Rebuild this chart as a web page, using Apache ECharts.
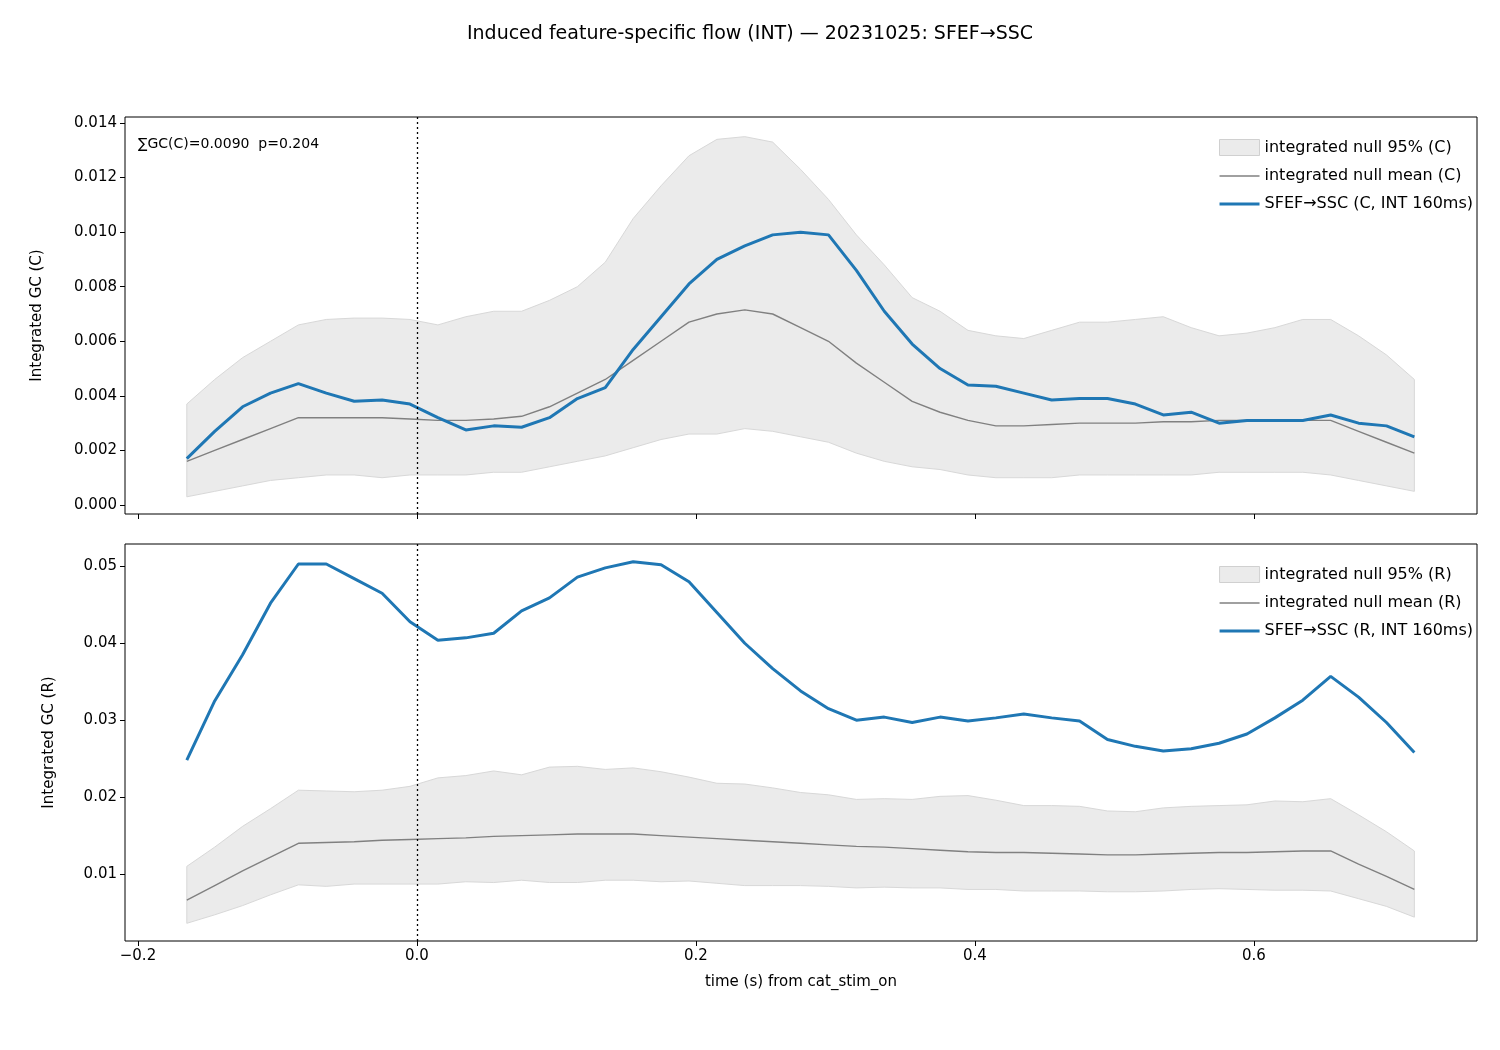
<!DOCTYPE html>
<html><head><meta charset="utf-8">
<script src="https://cdn.jsdelivr.net/npm/echarts@6/dist/echarts.min.js"></script>
<style>body{margin:0}#c{width:1500px;height:1050px}</style></head>
<body><div id="c"></div>
<script>
const times = Array.from({length:45},(_,i)=>+(-0.165+0.02*i).toFixed(3));
const cObs=[0.0017,0.0027,0.0036,0.0041,0.00445,0.0041,0.0038,0.00385,0.0037,0.0032,0.00275,0.0029,0.00285,0.0032,0.0039,0.0043,0.0057,0.0069,0.0081,0.0090,0.0095,0.0099,0.0100,0.0099,0.0086,0.0071,0.0059,0.0050,0.0044,0.00435,0.0041,0.00385,0.0039,0.0039,0.0037,0.0033,0.0034,0.0030,0.0031,0.0031,0.0031,0.0033,0.0030,0.0029,0.0025];
const cMean=[0.0016,0.0020,0.0024,0.0028,0.0032,0.0032,0.0032,0.0032,0.00315,0.0031,0.0031,0.00315,0.00325,0.0036,0.0041,0.0046,0.0053,0.0060,0.0067,0.0070,0.00715,0.0070,0.0065,0.0060,0.0052,0.0045,0.0038,0.0034,0.0031,0.0029,0.0029,0.00295,0.0030,0.0030,0.0030,0.00305,0.00305,0.0031,0.0031,0.0031,0.0031,0.0031,0.0027,0.0023,0.0019];
const cHi=[0.0037,0.0046,0.0054,0.0060,0.0066,0.0068,0.00685,0.00685,0.0068,0.0066,0.0069,0.0071,0.0071,0.0075,0.0080,0.0089,0.0105,0.0117,0.0128,0.0134,0.0135,0.0133,0.0123,0.0112,0.0099,0.0088,0.0076,0.0071,0.0064,0.0062,0.0061,0.0064,0.0067,0.0067,0.0068,0.0069,0.0065,0.0062,0.0063,0.0065,0.0068,0.0068,0.0062,0.0055,0.0046];
const cLo=[0.0003,0.0005,0.0007,0.0009,0.0010,0.0011,0.0011,0.0010,0.0011,0.0011,0.0011,0.0012,0.0012,0.0014,0.0016,0.0018,0.0021,0.0024,0.0026,0.0026,0.0028,0.0027,0.0025,0.0023,0.0019,0.0016,0.0014,0.0013,0.0011,0.0010,0.0010,0.0010,0.0011,0.0011,0.0011,0.0011,0.0011,0.0012,0.0012,0.0012,0.0012,0.0011,0.0009,0.0007,0.0005];
const rObs=[0.0248,0.0325,0.0385,0.0452,0.0503,0.0503,0.0484,0.0465,0.0428,0.0404,0.0407,0.0413,0.0442,0.0459,0.0486,0.0498,0.0506,0.0502,0.0480,0.0440,0.0400,0.0367,0.0338,0.0315,0.0300,0.0304,0.0297,0.0304,0.0299,0.0303,0.0308,0.0303,0.0299,0.0275,0.0266,0.0260,0.0263,0.0270,0.0282,0.0303,0.0326,0.0357,0.0330,0.0297,0.0258];
const rMean=[0.0066,0.0085,0.0104,0.0122,0.0140,0.0141,0.0142,0.0144,0.0145,0.0146,0.0147,0.0149,0.0150,0.0151,0.0152,0.0152,0.0152,0.0150,0.0148,0.0146,0.0144,0.0142,0.0140,0.0138,0.0136,0.0135,0.0133,0.0131,0.0129,0.0128,0.0128,0.0127,0.0126,0.0125,0.0125,0.0126,0.0127,0.0128,0.0128,0.0129,0.0130,0.0130,0.0113,0.0097,0.0080];
const rHi=[0.0110,0.0135,0.0162,0.0185,0.0209,0.0208,0.0207,0.0209,0.0214,0.0225,0.0228,0.0234,0.0229,0.0239,0.0240,0.0236,0.0238,0.0233,0.0226,0.0218,0.0217,0.0212,0.0206,0.0203,0.0197,0.0198,0.0197,0.0201,0.0202,0.0196,0.0189,0.0189,0.0188,0.0182,0.0181,0.0186,0.0188,0.0189,0.0190,0.0195,0.0194,0.0198,0.0177,0.0155,0.0130];
const rLo=[0.0036,0.0047,0.0059,0.0073,0.0086,0.0084,0.0087,0.0087,0.0087,0.0087,0.0090,0.0089,0.0092,0.0089,0.0089,0.0092,0.0092,0.0090,0.0091,0.0088,0.0085,0.0085,0.0085,0.0084,0.0082,0.0083,0.0082,0.0082,0.0080,0.0080,0.0078,0.0078,0.0078,0.0077,0.0077,0.0078,0.0080,0.0081,0.0080,0.0079,0.0079,0.0078,0.0068,0.0058,0.0044];
const xTicks=[-0.2,0,0.2,0.4,0.6];
const cTicks=[0,0.002,0.004,0.006,0.008,0.010,0.012,0.014];
const rTicks=[0.01,0.02,0.03,0.04,0.05];

const pts=(a)=>times.map((t,i)=>[t,a[i]]);
const F='DejaVu Sans';
const fmtX=v=>(v<0?'\u2212':'')+Math.abs(v).toFixed(1);
function xAxis(i,labels){return {type:'value',gridIndex:i,min:-0.2093,max:0.7599,
  axisLine:{show:false,onZero:false},splitLine:{show:false},
  axisTick:{show:true,customValues:xTicks,length:5,lineStyle:{color:'#000'}},
  axisLabel:{show:labels,customValues:xTicks,formatter:fmtX,color:'#000',fontFamily:F,fontSize:15},
  name:labels?'time (s) from cat_stim_on':'',nameLocation:'middle',nameGap:34,nameTextStyle:{color:'#000',fontFamily:F,fontSize:15}};}
function yAxis(i,min,max,ticks,dec,name){return {type:'value',gridIndex:i,min,max,
  axisLine:{show:false,onZero:false},splitLine:{show:false},
  axisTick:{show:true,customValues:ticks,length:5,lineStyle:{color:'#000'}},
  axisLabel:{customValues:ticks,formatter:v=>v.toFixed(dec),color:'#000',fontFamily:F,fontSize:15},
  name,nameLocation:'middle',nameGap:i===0?80:68,nameTextStyle:{color:'#000',fontFamily:F,fontSize:15}};}
function band(i,lo,hi,name){return {type:'custom',name,xAxisIndex:i,yAxisIndex:i,data:[0],z:1,silent:true,
  itemStyle:{color:'#ebebeb'},
  renderItem:(params,api)=>{
    const up=times.map((t,k)=>api.coord([t,hi[k]]));
    const dn=times.map((t,k)=>api.coord([t,lo[k]])).reverse();
    return {type:'polygon',shape:{points:up.concat(dn)},style:{fill:'#ebebeb',stroke:'#d8d8d8',lineWidth:1}};
  }};}
const vline={silent:true,symbol:'none',label:{show:false},lineStyle:{color:'#000',type:[2,3],width:1.3},data:[{xAxis:0}]};
function lines(i,mean,obs,nm,no){return [
  {type:'line',name:nm,xAxisIndex:i,yAxisIndex:i,data:pts(mean),symbol:'none',lineStyle:{color:'#808080',width:1.4},itemStyle:{color:'#808080'},z:3,markLine:vline},
  {type:'line',name:no,xAxisIndex:i,yAxisIndex:i,data:pts(obs),symbol:'none',lineStyle:{color:'#1f77b4',width:3},itemStyle:{color:'#1f77b4'},z:4}];}
const lineIcon=h=>'path://M0,0 L40,0 L40,'+h+' L0,'+h+' Z';
function legend(top,names){return {top,right:22,orient:'vertical',itemGap:12,itemWidth:40,itemHeight:16,
  textStyle:{fontFamily:F,fontSize:16,color:'#000'},
  data:[{name:names[0],icon:'rect',itemStyle:{color:'#ebebeb',borderColor:'#d0d0d0',borderWidth:1}},
        {name:names[1],icon:lineIcon(1.4),itemHeight:2,itemStyle:{color:'#808080'}},
        {name:names[2],icon:lineIcon(3),itemStyle:{color:'#1f77b4'}}]};}
const nC=['integrated null 95% (C)','integrated null mean (C)','SFEF\u2192SSC (C, INT 160ms)'];
const nR=['integrated null 95% (R)','integrated null mean (R)','SFEF\u2192SSC (R, INT 160ms)'];
const chart=echarts.init(document.getElementById('c'));
chart.setOption({
  backgroundColor:'#fff',animation:false,
  title:{text:'Induced feature-specific flow (INT) \u2014 20231025: SFEF\u2192SSC',left:'center',top:20,textStyle:{fontFamily:F,fontSize:19,fontWeight:'normal',color:'#000'}},
  grid:[{left:125,right:23,top:117,height:397,show:true,borderColor:'#000',borderWidth:1},
        {left:125,right:23,top:544,height:397,show:true,borderColor:'#000',borderWidth:1}],
  xAxis:[xAxis(0,false),xAxis(1,true)],
  yAxis:[yAxis(0,-0.00033,0.01422,cTicks,3,'Integrated GC (C)'),yAxis(1,0.0013,0.0529,rTicks,2,'Integrated GC (R)')],
  legend:[legend(134,nC),legend(561,nR)],
  graphic:[{type:'text',left:138,top:137,style:{text:'\u2211GC(C)=0.0090  p=0.204',font:'14px "DejaVu Sans"',fill:'#000'}}],
  series:[band(0,cLo,cHi,nC[0]),...lines(0,cMean,cObs,nC[1],nC[2]),
          band(1,rLo,rHi,nR[0]),...lines(1,rMean,rObs,nR[1],nR[2])]
});
</script></body></html>
